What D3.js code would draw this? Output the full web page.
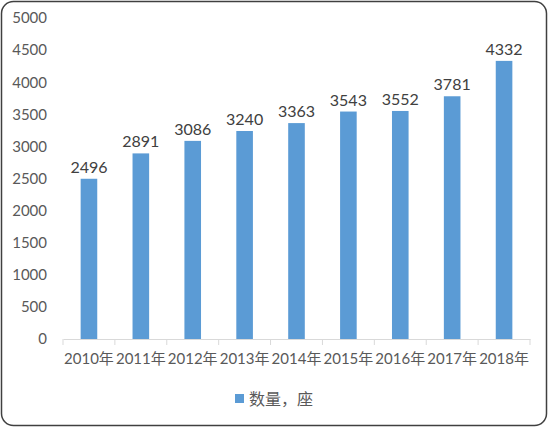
<!DOCTYPE html>
<html>
<head>
<meta charset="utf-8">
<script src="https://cdn.jsdelivr.net/npm/d3@7"></script>
<style>
  body { margin: 0; background: #fff; }
  text { font-family: Lato, "Noto Sans CJK SC", sans-serif; }
</style>
</head>
<body>
<div id="grafiek"></div>
<script>
// Gegevens
const years = ["2010年", "2011年", "2012年", "2013年", "2014年", "2015年", "2016年", "2017年", "2018年"];
const counts = [2496, 2891, 3086, 3240, 3363, 3543, 3552, 3781, 4332];
const yTicks = [0, 500, 1000, 1500, 2000, 2500, 3000, 3500, 4000, 4500, 5000];
const seriesName = "数量，座";

const W = 548, H = 427;
const margin = { top: 18, right: 18, bottom: 88, left: 63 },
  width = W - margin.left - margin.right,
  height = H - margin.top - margin.bottom;

const root = d3.select('#grafiek')
  .append('svg')
  .attr('width', W)
  .attr('height', H);

// frame
root.append('rect')
  .attr('x', 1.5).attr('y', 1.5)
  .attr('width', W - 3).attr('height', H - 3)
  .attr('rx', 12).attr('ry', 12)
  .style('fill', '#fff')
  .style('stroke', '#404040')
  .style('stroke-width', 1.5);

const svg = root.append('g')
  .attr('transform', `translate(${margin.left}, ${margin.top})`);

const x = d3.scaleBand()
  .domain(years)
  .range([0, width])
  .paddingInner(0.68)
  .paddingOuter(0.34);

const y = d3.scaleLinear()
  .domain([0, 5000])
  .range([height, 0]);

// Y axis labels only
const yAxis = svg.append('g')
  .call(d3.axisLeft(y).tickValues(yTicks).tickFormat(d3.format('d')).tickSize(0).tickPadding(16));
yAxis.select('.domain').remove();
yAxis.selectAll('text')
  .style('font-size', '15px')
  .style('fill', '#595959');

// X axis
const xStep = x.step();
const xAxis = svg.append('g')
  .attr('transform', `translate(0, ${height})`)
  .call(d3.axisBottom(x).tickSize(0).tickPadding(14));
xAxis.select('.domain').style('stroke', '#d9d9d9');
xAxis.selectAll('text')
  .style('font-size', '15px')
  .style('fill', '#595959');

// tick marks at band edges
svg.append('g')
  .selectAll('line')
  .data(d3.range(years.length + 1))
  .enter()
  .append('line')
    .attr('x1', i => i * xStep)
    .attr('x2', i => i * xStep)
    .attr('y1', height)
    .attr('y2', height + 6)
    .style('stroke', '#d9d9d9');

// bars
svg.append('g')
  .selectAll('rect')
  .data(counts)
  .enter()
  .append('rect')
    .attr('x', (d, i) => x(years[i]))
    .attr('y', d => y(d))
    .attr('width', x.bandwidth())
    .attr('height', d => height - y(d))
    .style('fill', '#5b9bd5');

// value labels
svg.append('g')
  .selectAll('text')
  .data(counts)
  .enter()
  .append('text')
    .attr('x', (d, i) => x(years[i]) + x.bandwidth() / 2)
    .attr('y', d => y(d) - 6)
    .attr('text-anchor', 'middle')
    .style('font-size', '16px')
    .style('fill', '#404040')
    .text(d => d);

// legend
const legend = root.append('g').attr('transform', 'translate(235, 394)');
legend.append('rect')
  .attr('width', 9).attr('height', 9)
  .style('fill', '#5b9bd5');
legend.append('text')
  .attr('x', 14).attr('y', 5)
  .attr('dy', '0.35em')
  .style('font-size', '16px')
  .style('fill', '#595959')
  .text(seriesName);
</script>
</body>
</html>
